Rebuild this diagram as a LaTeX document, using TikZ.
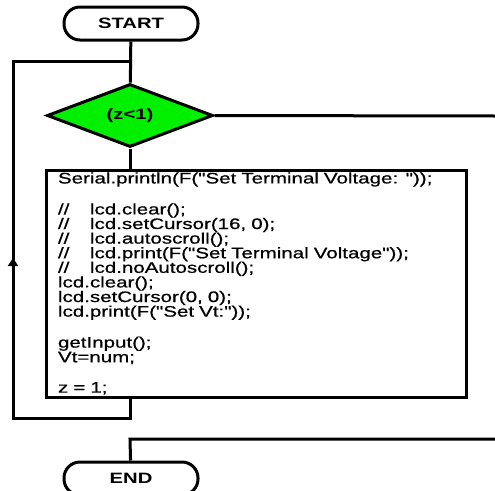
\documentclass[tikz,border=0pt]{standalone}
\usepackage{fontspec}
\newfontfamily\flowfont[FakeStretch=1.35]{Liberation Sans}
\newfontfamily\codefont[FakeStretch=1.35, FakeBold=0.7]{Liberation Sans}
\usetikzlibrary{shapes.geometric, arrows.meta, positioning}
\definecolor{xgreen}{HTML}{00F000}
\tikzset{
	flowline/.style = {line width=3pt},
	terminal/.style = {draw, flowline, rounded corners=16pt, minimum width=134pt, minimum height=33pt, inner sep=0pt, font=\flowfont\fontsize{15}{17}\selectfont\bfseries},
	decision/.style = {draw, flowline, diamond, fill=xgreen, inner sep=0pt, minimum width=166pt, minimum height=63pt, font=\flowfont\fontsize{15}{17}\selectfont\bfseries},
	codebox/.style = {draw, flowline, text width=396pt, align=left, minimum height=227pt, inner xsep=12pt, inner ysep=0pt, font=\codefont\fontsize{15.2}{14.6}\selectfont},
}
\newcommand\cmt{\makebox[32pt][l]{//}}

\begin{document}
\begin{tikzpicture}[x=1pt, y=-1pt]
	\useasboundingbox (0,0) rectangle (495,490);
	\node[terminal] (start) at (131,23.5) {START};
	\node[decision] (dec) at (130,115.5) {(z<1)};
	\node[codebox] (code) at (256,283.5) {%
		Serial.println(F("Set Terminal Voltage: "));\\
		\strut\\
		\cmt lcd.clear();\\
		\cmt lcd.setCursor(16, 0);\\
		\cmt lcd.autoscroll();\\
		\cmt lcd.print(F("Set Terminal Voltage"));\\
		\cmt lcd.noAutoscroll();\\
		lcd.clear();\\
		lcd.setCursor(0, 0);\\
		lcd.print(F("Set Vt:"));\\
		\strut\\
		getInput();\\
		Vt=num;\\
		\strut\\
		z = 1;};
	\node[terminal] (end) at (131,478.5) {END};

	\coordinate (join) at (130,61.5);
	\coordinate (loopL) at (13,61.5);
	\coordinate (arr) at (13,258);
	\coordinate (loopB) at (13,418);
	\coordinate (exitR) at (495,116);
	\coordinate (exitB) at (495,439);

	\draw[flowline] (start) -- (dec);
	\draw[flowline] (dec) -- (dec |- code.north);
	\draw[flowline] (dec.east) -- (exitR);
	\draw[flowline, line join=miter] (dec |- code.south) -- (dec |- loopB) -- (loopB) -- (arr);
	\draw[flowline, -{Triangle[length=8pt, width=10pt]}] (loopB) -- (arr);
	\draw[flowline, line join=miter] (arr) -- (loopL) -- (join);
	\draw[flowline, line join=miter] (exitB) -- (exitB -| dec) -- (end);
\end{tikzpicture}
\end{document}
